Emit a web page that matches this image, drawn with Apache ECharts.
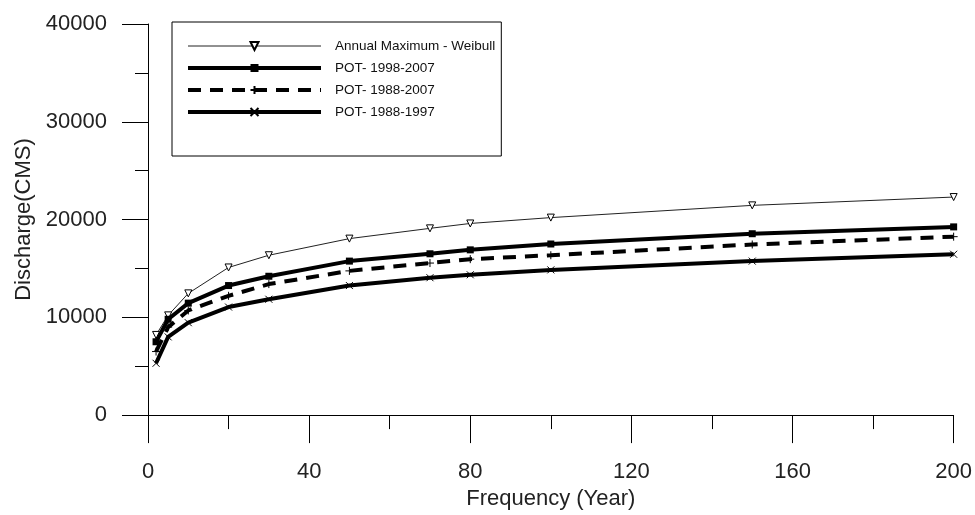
<html>

<head>
    <meta charset="utf-8">
    <title>Discharge vs Frequency</title>
    <style>
        html,
        body {
            padding: 0;
            margin: 0;
            background: #fff;
            overflow: hidden;
        }

        #chartDiv {
            width: 975px;
            height: 515px;
        }
    </style>
    <script src="https://cdn.jsdelivr.net/npm/echarts@6/dist/echarts.min.js"></script>
</head>

<body>
    <div id="chartDiv"></div>
    <script>
        // return periods (years)
        var years = [2, 5, 10, 20, 30, 50, 70, 80, 100, 150, 200];

        // discharge values
        var annualMax = [8200, 10200, 12450, 15100, 16350, 18050, 19100, 19600, 20200, 21450, 22300];
        var pot9807 = [7500, 9800, 11450, 13250, 14200, 15750, 16500, 16900, 17500, 18550, 19250];
        var pot8807 = [6500, 9000, 10700, 12200, 13400, 14750, 15550, 15950, 16350, 17450, 18250];
        var pot8897 = [5300, 8000, 9450, 11050, 11850, 13250, 14050, 14350, 14850, 15750, 16450];

        var seriesNames = ['Annual Maximum - Weibull', 'POT- 1998-2007', 'POT- 1988-2007', 'POT- 1988-1997'];

        var xTicks = { min: 0, max: 200, interval: 40 };
        var yTicks = { min: 0, max: 40000, interval: 10000 };

        function pairs(vals) {
            return years.map(function (x, i) { return [x, vals[i]]; });
        }

        var font = 'Liberation Sans, Arial, sans-serif';

        var option = {
            animation: false,
            backgroundColor: '#fff',
            grid: {
                left: 148,
                right: 20,
                top: 24,
                bottom: 90,
                containLabel: false
            },
            legend: {
                orient: 'vertical',
                left: 172,
                top: 22,
                padding: [17, 6, 37, 14],
                itemWidth: 133,
                itemHeight: 10,
                itemGap: 8,
                borderColor: '#000',
                borderWidth: 1,
                textStyle: {
                    color: '#111',
                    fontFamily: font,
                    fontSize: 13.5,
                    padding: [0, 0, 0, 9]
                },
                data: [
                    { name: seriesNames[0], lineStyle: { width: 1 } },
                    { name: seriesNames[1], lineStyle: { width: 4 } },
                    { name: seriesNames[2], lineStyle: { width: 4 } },
                    { name: seriesNames[3], lineStyle: { width: 4 } }
                ]
            },
            xAxis: {
                type: 'value',
                min: xTicks.min,
                max: xTicks.max,
                interval: xTicks.interval,
                name: 'Frequency (Year)',
                nameLocation: 'middle',
                nameGap: 70,
                nameTextStyle: { color: '#222', fontFamily: font, fontSize: 22 },
                axisLine: { show: true, lineStyle: { color: '#000', width: 1 } },
                axisTick: { show: true, length: 28, lineStyle: { color: '#000' } },
                minorTick: { show: true, splitNumber: 2, length: 14, lineStyle: { color: '#000' } },
                axisLabel: { color: '#222', fontFamily: font, fontSize: 22, margin: 46 },
                splitLine: { show: false }
            },
            yAxis: {
                type: 'value',
                min: yTicks.min,
                max: yTicks.max,
                interval: yTicks.interval,
                name: 'Discharge(CMS)',
                nameLocation: 'middle',
                nameGap: 112,
                nameTextStyle: { color: '#222', fontFamily: font, fontSize: 22 },
                axisLine: { show: true, lineStyle: { color: '#000', width: 1 } },
                axisTick: { show: true, length: 26, lineStyle: { color: '#000' } },
                minorTick: { show: true, splitNumber: 2, length: 13, lineStyle: { color: '#000' } },
                axisLabel: {
                    color: '#222', fontFamily: font, fontSize: 22, margin: 41,
                    formatter: function (v) { return String(v); }
                },
                splitLine: { show: false }
            },
            series: [{
                name: seriesNames[0],
                type: 'line',
                data: pairs(annualMax),
                symbol: 'triangle',
                symbolRotate: 180,
                symbolSize: 7,
                lineStyle: { color: '#222', width: 1 },
                itemStyle: { color: '#fff', borderColor: '#000', borderWidth: 1 }
            }, {
                name: seriesNames[1],
                type: 'line',
                data: pairs(pot9807),
                symbol: 'rect',
                symbolSize: 7,
                lineStyle: { color: '#000', width: 4 },
                itemStyle: { color: '#000' }
            }, {
                name: seriesNames[2],
                type: 'line',
                data: pairs(pot8807),
                symbol: 'path://M0,5L10,5M5,0L5,10',
                symbolSize: 8,
                lineStyle: { color: '#000', width: 4, type: [13, 9] },
                itemStyle: { color: '#000', borderColor: '#000', borderWidth: 1 }
            }, {
                name: seriesNames[3],
                type: 'line',
                data: pairs(pot8897),
                symbol: 'path://M0,0L10,10M10,0L0,10',
                symbolSize: 7,
                lineStyle: { color: '#000', width: 4 },
                itemStyle: { color: '#000', borderColor: '#000', borderWidth: 1 }
            }]
        };

        var myChart = echarts.init(document.getElementById('chartDiv'));
        myChart.setOption(option);
    </script>
</body>

</html>
